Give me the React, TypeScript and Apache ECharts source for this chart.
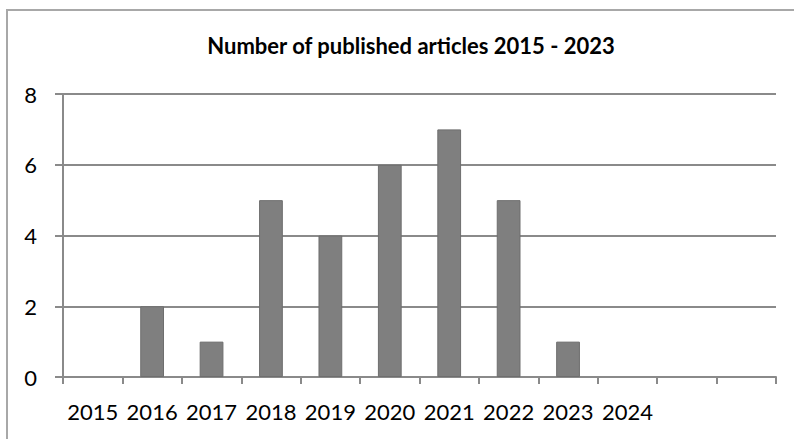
import React, { useEffect, useRef } from "react";
import * as echarts from "echarts";

const categories = ["2015", "2016", "2017", "2018", "2019", "2020", "2021", "2022", "2023", "2024", "", ""];
const articles: (number | null)[] = [null, 2, 1, 5, 4, 6, 7, 5, 1, null, null, null];
const titleText = "Number of published articles 2015 - 2023";
const yMin = 0;
const yMax = 8;
const yStep = 2;

export default function App() {
  const ref = useRef<HTMLDivElement>(null);
  useEffect(() => {
    if (!ref.current) return;
    const chart = echarts.init(ref.current, undefined, { renderer: "svg" });
    const axisGrey = "#8a8a8a";
    chart.setOption({
      animation: false,
      backgroundColor: "#ffffff",
      title: {
        text: titleText,
        left: 406,
        textAlign: "center",
        top: 29,
        textStyle: { fontFamily: "Lato", fontWeight: "bold", fontSize: 22, color: "#000" },
      },
      graphic: [
        {
          type: "rect",
          shape: { x: 7, y: 10, width: 1200, height: 1200 },
          style: { fill: "none", stroke: "#a8a8a8", lineWidth: 2 },
          z: -1,
          silent: true,
        },
      ],
      grid: { left: 63, right: 18, top: 94, bottom: 62, containLabel: false, outerBoundsMode: "none" },
      xAxis: {
        type: "category",
        data: categories,
        boundaryGap: true,
        axisLine: { show: true, lineStyle: { color: axisGrey, width: 2 } },
        axisTick: { show: true, alignWithLabel: false, length: 7, lineStyle: { color: axisGrey, width: 2 } },
        axisLabel: { interval: 0, fontFamily: "Lato", fontSize: 22, color: "#000", margin: 23 },
        splitLine: { show: false },
      },
      yAxis: {
        type: "value",
        min: yMin,
        max: yMax,
        interval: yStep,
        axisLine: { show: true, lineStyle: { color: axisGrey, width: 2 } },
        axisTick: { show: true, length: 8, lineStyle: { color: axisGrey, width: 2 } },
        axisLabel: { fontFamily: "Lato", fontSize: 22, color: "#000", margin: 26 },
        splitLine: { show: true, lineStyle: { color: axisGrey, width: 2 } },
      },
      series: [
        {
          type: "bar",
          data: articles,
          barWidth: "40%",
          itemStyle: { color: "#7f7f7f", borderColor: "#6e6e6e", borderWidth: 1 },
        },
      ],
    });
    return () => chart.dispose();
  }, []);
  return <div ref={ref} style={{ position: "absolute", left: 0, top: 0, width: 794, height: 439 }} />;
}
